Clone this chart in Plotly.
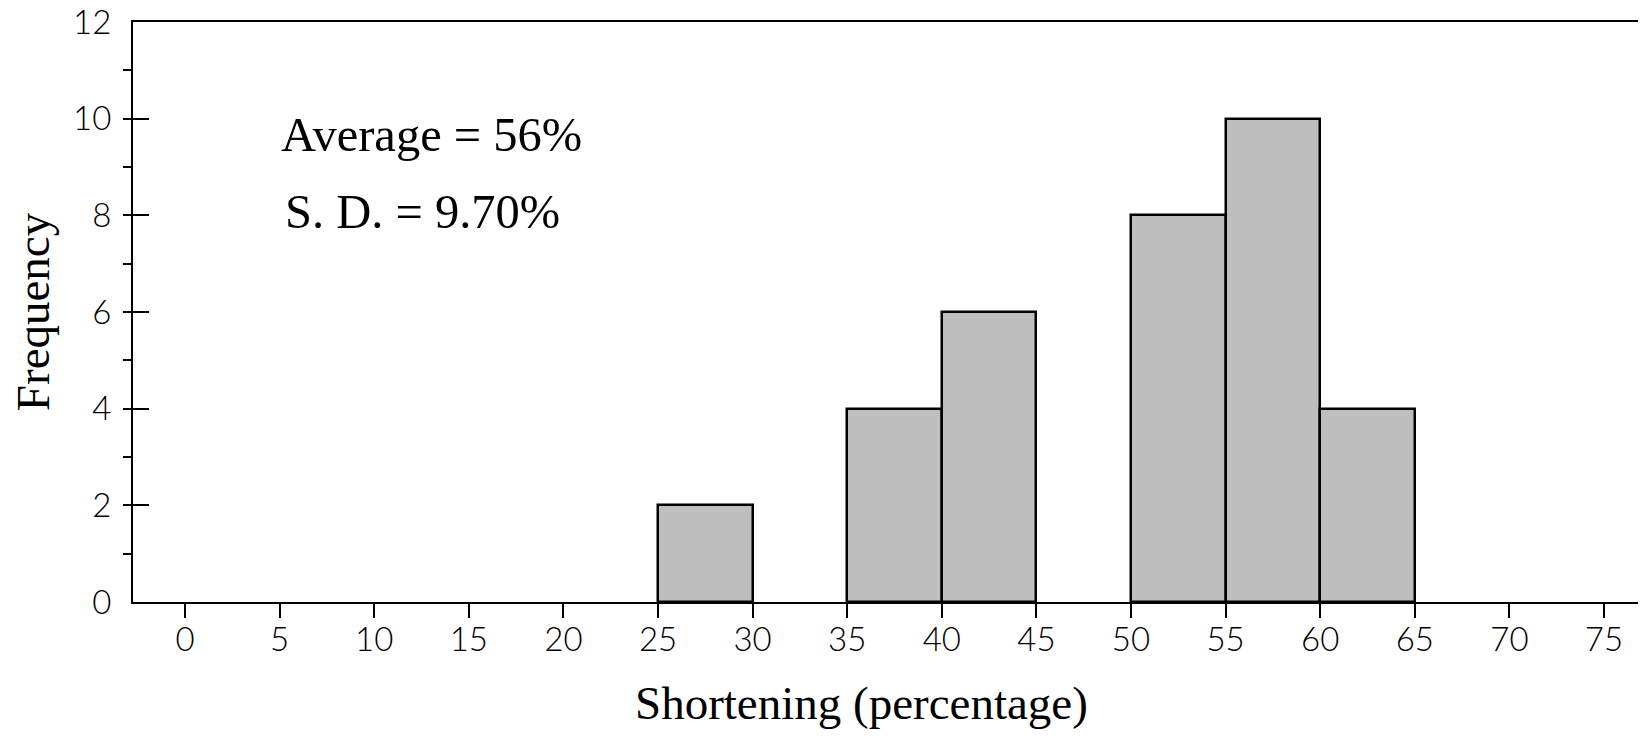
import plotly.graph_objects as go

# Data
bin_lower = [25, 35, 40, 50, 55, 60]
bin_width = 5
frequency = [2, 4, 6, 8, 10, 4]

x_ticks = [0, 5, 10, 15, 20, 25, 30, 35, 40, 45, 50, 55, 60, 65, 70, 75]
y_ticks = [0, 2, 4, 6, 8, 10, 12]

stats_lines = ["Average = 56%", "S. D. = 9.70%"]
x_title = "Shortening (percentage)"
y_title = "Frequency"

centers = [b + bin_width / 2 for b in bin_lower]

tick_font = dict(family="Lato, 'Open Sans', sans-serif", size=33, color="black", weight=300)
serif = "'Liberation Serif', 'Times New Roman', serif"

fig = go.Figure()
fig.add_trace(go.Bar(
    x=centers,
    y=frequency,
    width=[bin_width] * len(centers),
    marker=dict(color="#bebebe", line=dict(color="black", width=2.5)),
    hoverinfo="x+y",
))

# page body has an 8px default margin, so the figure is offset by 8px
fig.update_layout(
    width=1638, height=736,
    margin=dict(l=125, r=0, t=14, b=142, autoexpand=False),
    paper_bgcolor="white", plot_bgcolor="white",
    showlegend=False,
    bargap=0,
)

fig.update_xaxes(
    range=[-2.75, 77.22], automargin=False,
    tickvals=x_ticks, ticktext=[str(v) for v in x_ticks],
    ticks="outside", ticklen=14, tickwidth=2, tickcolor="black",
    showline=True, linecolor="black", linewidth=2, mirror=True,
    showgrid=False, zeroline=False,
    tickfont=tick_font, ticklabelstandoff=-7, ticklabeloverflow="allow",
)
fig.update_yaxes(
    range=[0, 12], automargin=False,
    tickvals=y_ticks, ticktext=[str(v) for v in y_ticks],
    ticks="inside", ticklen=16, tickwidth=2, tickcolor="black",
    minor=dict(dtick=1, ticks="outside", ticklen=8, tickwidth=2, tickcolor="black"),
    showline=True, linecolor="black", linewidth=2, mirror=False,
    showgrid=False, zeroline=False,
    tickfont=tick_font, ticklabelstandoff=13, ticklabeloverflow="allow",
)

# Statistics text
fig.add_annotation(x=4.97, y=9.67, xref="x", yref="y", text=stats_lines[0],
                   showarrow=False, xanchor="left", yanchor="middle",
                   font=dict(family=serif, size=48.5, color="black"))
fig.add_annotation(x=5.16, y=8.08, xref="x", yref="y", text=stats_lines[1],
                   showarrow=False, xanchor="left", yanchor="middle",
                   font=dict(family=serif, size=48.5, color="black"))

# Axis titles
fig.add_annotation(x=0.4812, y=-0.174, xref="paper", yref="paper", text=x_title,
                   showarrow=False, xanchor="center", yanchor="middle",
                   font=dict(family=serif, size=47, color="black"))
fig.add_annotation(x=-0.066, y=0.5, xref="paper", yref="paper", text=y_title,
                   showarrow=False, xanchor="center", yanchor="middle", textangle=-90,
                   font=dict(family=serif, size=47, color="black"))

fig.write_html("out.html")
